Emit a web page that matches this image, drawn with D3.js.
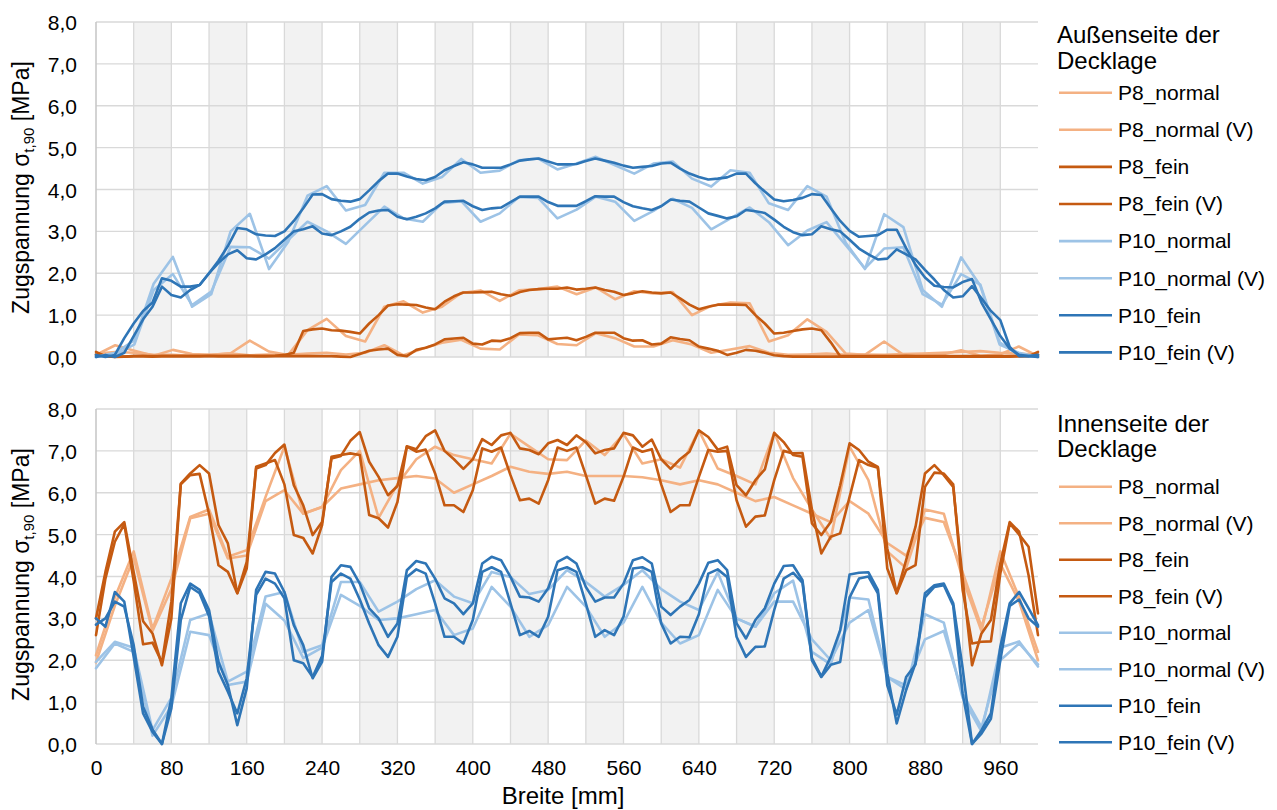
<!DOCTYPE html>
<html>
<head>
<meta charset="utf-8">
<script src="https://cdn.jsdelivr.net/npm/d3@7"></script>
<style>
  html, body { margin: 0; padding: 0; background: #fff; }
  svg { display: block; font-family: "Liberation Sans", Arial, sans-serif; }
</style>
</head>
<body>
<svg id="chart" width="1277" height="810"></svg>
<script>
// Measuring positions across the panel width [mm]
const fineX = [0,10,20,30,40,50,60,70,80,90,100,110,120,130,140,150,160,170,180,190,
  200,210,220,230,240,250,260,270,280,290,300,310,320,330,340,350,360,370,380,390,
  400,410,420,430,440,450,460,470,480,490,500,510,520,530,540,550,560,570,580,590,
  600,610,620,630,640,650,660,670,680,690,700,710,720,730,740,750,760,770,780,790,
  800,810,820,830,840,850,860,870,880,890,900,910,920,930,940,950,960,970,980,990,1000];
const outerNormalX = [0,20.4,40.8,61.2,81.6,102,122.4,142.9,163.3,183.7,204.1,224.5,244.9,265.3,285.7,
  306.1,326.5,346.9,367.3,387.8,408.2,428.6,449,469.4,489.8,510.2,530.6,551,571.4,591.8,612.2,
  632.7,653.1,673.5,693.9,714.3,734.7,755.1,775.5,795.9,816.3,836.7,857.1,877.6,898,918.4,
  938.8,959.2,979.6,1000];
const innerNormalX = [0,20,40,60,80,100,120,140,160,180,200,220,240,260,280,300,320,340,360,380,
  400,420,440,460,480,500,520,540,560,580,600,620,640,660,680,700,720,740,760,780,
  800,820,840,860,880,900,920,940,960,980,1000];

// Außenseite der Decklage – Zugspannung [MPa]
const outerP8Normal = [0.05,0.28,0.15,0.03,0.17,0.07,0.05,0.09,0.39,0.13,0.05,0.64,0.91,0.5,0.37,1.2,1.33,1.06,1.2,1.53,
  1.59,1.34,1.59,1.62,1.68,1.5,1.66,1.38,1.57,1.52,1.55,1.0,1.22,1.3,1.28,0.37,0.52,0.9,0.6,0.08,
  0.05,0.37,0.05,0.05,0.06,0.16,0.03,0.06,0.25,0.02];
const outerP8NormalV = [0.08,0.12,0.1,0.05,0.05,0.03,0.05,0.08,0.04,0.06,0.05,0.08,0.1,0.06,0.1,0.28,0.04,0.2,0.34,0.41,
  0.2,0.18,0.54,0.52,0.31,0.28,0.57,0.45,0.25,0.25,0.4,0.3,0.1,0.18,0.26,0.1,0.05,0.06,0.08,0.05,
  0.06,0.05,0.07,0.08,0.1,0.12,0.14,0.1,0.08,0.05];
const outerP8Fein = [0.12,0.02,0.0,0.01,0.02,0.02,0.01,0.02,0.02,0.02,
  0.02,0.02,0.03,0.02,0.02,0.02,0.03,0.02,0.02,0.03,
  0.05,0.1,0.62,0.66,0.68,0.64,0.63,0.6,0.56,0.8,
  1.0,1.23,1.26,1.25,1.24,1.18,1.14,1.32,1.45,1.54,
  1.54,1.55,1.56,1.5,1.46,1.55,1.6,1.62,1.63,1.63,
  1.66,1.61,1.63,1.66,1.6,1.56,1.48,1.52,1.57,1.54,
  1.52,1.54,1.4,1.25,1.14,1.2,1.25,1.25,1.25,1.24,
  1.0,0.8,0.56,0.58,0.62,0.66,0.68,0.64,0.35,0.02,
  0.02,0.02,0.02,0.02,0.02,0.02,0.03,0.02,0.02,0.02,
  0.02,0.02,0.02,0.02,0.02,0.02,0.02,0.02,0.02,0.02,0.12];
const outerP8FeinV = [0.05,0.02,0.01,0.01,0.02,0.02,0.02,0.02,0.02,0.02,
  0.02,0.02,0.02,0.02,0.02,0.02,0.02,0.02,0.02,0.02,
  0.02,0.02,0.02,0.02,0.02,0.02,0.01,0.0,0.07,0.15,
  0.18,0.2,0.05,0.02,0.17,0.22,0.3,0.42,0.44,0.46,
  0.32,0.3,0.39,0.38,0.45,0.57,0.58,0.58,0.42,0.44,
  0.46,0.4,0.48,0.58,0.58,0.58,0.45,0.39,0.4,0.3,
  0.32,0.47,0.43,0.4,0.25,0.2,0.15,0.05,0.1,0.17,
  0.15,0.1,0.04,0.02,0.01,0.01,0.01,0.01,0.01,0.01,
  0.01,0.01,0.01,0.01,0.01,0.01,0.01,0.01,0.01,0.01,
  0.01,0.01,0.01,0.01,0.01,0.01,0.01,0.01,0.02,0.03,0.05];
const outerP10Normal = [0.0,0.1,0.4,1.75,2.39,1.2,1.5,3.0,3.42,2.1,2.75,3.85,4.08,3.5,3.63,4.4,4.4,4.14,4.3,4.73,
  4.4,4.45,4.7,4.74,4.48,4.62,4.78,4.58,4.38,4.62,4.67,4.26,4.07,4.46,4.4,3.67,3.51,4.08,3.83,2.73,
  2.1,3.41,3.1,1.6,1.2,2.38,1.7,0.3,0.1,0.0];
const outerP10NormalV = [0.0,0.05,0.3,1.6,1.98,1.24,1.56,2.63,2.62,2.35,2.8,3.23,3.0,2.7,3.15,3.59,3.31,3.23,3.67,3.72,
  3.23,3.43,3.82,3.80,3.31,3.52,3.83,3.71,3.25,3.49,3.78,3.56,3.05,3.31,3.57,3.22,2.67,3.02,3.22,2.67,
  2.12,2.59,2.62,1.5,1.25,1.98,1.73,0.35,0.05,0.0];
const outerP10Fein = [0.05,0.0,0.05,0.45,0.8,1.1,1.3,1.88,1.82,1.68,
  1.68,1.72,2.0,2.3,2.65,3.08,3.05,2.93,2.9,2.89,
  3.0,3.25,3.55,3.88,3.89,3.77,3.73,3.71,3.77,3.98,
  4.2,4.38,4.38,4.31,4.25,4.22,4.3,4.46,4.56,4.65,
  4.6,4.52,4.52,4.52,4.6,4.69,4.72,4.74,4.67,4.6,
  4.6,4.61,4.68,4.74,4.69,4.64,4.57,4.52,4.54,4.56,
  4.62,4.64,4.5,4.38,4.3,4.24,4.26,4.29,4.38,4.38,
  4.15,3.95,3.76,3.72,3.75,3.8,3.89,3.87,3.55,3.25,
  3.01,2.87,2.89,2.91,3.04,3.04,2.6,2.2,1.9,1.7,
  1.67,1.66,1.79,1.86,1.3,0.9,0.5,0.2,0.05,0.02,0.05];
const outerP10FeinV = [0.0,0.05,0.0,0.1,0.5,0.9,1.2,1.68,1.48,1.42,
  1.6,1.72,2.0,2.25,2.45,2.55,2.36,2.33,2.45,2.6,
  2.8,3.0,3.05,3.12,2.95,2.91,3.0,3.11,3.3,3.45,
  3.5,3.51,3.35,3.29,3.35,3.43,3.55,3.71,3.72,3.73,
  3.6,3.51,3.55,3.57,3.7,3.83,3.83,3.83,3.7,3.61,
  3.61,3.61,3.72,3.84,3.83,3.83,3.7,3.6,3.55,3.51,
  3.6,3.76,3.73,3.71,3.57,3.43,3.37,3.31,3.36,3.51,
  3.48,3.44,3.28,3.11,2.98,2.91,2.93,3.12,3.05,3.0,
  2.8,2.59,2.45,2.33,2.35,2.57,2.45,2.33,2.08,1.85,
  1.6,1.42,1.45,1.69,1.4,1.1,0.88,0.24,0.02,0.02,0.0];

// Innenseite der Decklage – Zugspannung [MPa]
const innerP8Normal = [2.12,3.5,4.6,2.75,3.95,5.42,5.6,4.47,4.63,5.9,
  7.1,5.5,5.66,6.54,7.0,5.4,6.2,6.8,7.1,6.9,
  6.8,6.7,7.41,7.1,6.8,6.78,7.25,6.9,7.4,6.7,
  6.8,6.6,7.49,6.58,6.4,6.2,7.43,6.35,5.6,4.9,
  7.1,6.3,4.6,4.2,5.6,5.5,3.95,2.7,4.6,3.5,2.2];
const innerP8NormalV = [1.95,3.3,4.45,2.7,3.7,5.39,5.5,4.43,4.5,5.8,
  6.06,5.5,5.66,6.1,6.2,6.3,6.35,6.4,6.34,6.0,
  6.2,6.4,6.62,6.5,6.45,6.5,6.4,6.4,6.4,6.37,
  6.3,6.2,6.3,6.2,6.0,5.8,5.9,5.7,5.5,5.3,
  5.8,5.5,4.8,4.5,5.4,5.3,4.1,2.8,4.3,3.4,2.0];
const innerP8Fein = [3.0,4.11,5.07,5.3,4.1,2.93,2.64,1.88,3.0,6.22,
  6.46,6.66,6.46,5.23,4.79,3.6,4.19,6.58,6.66,6.95,
  7.15,6.18,5.7,4.99,5.3,6.82,6.88,7.24,7.45,6.74,
  6.38,5.94,6.16,7.11,7.04,7.35,7.49,7.0,6.8,6.57,
  6.8,7.28,7.14,7.37,7.43,7.06,7.02,6.92,7.18,7.26,
  7.14,7.37,7.21,6.94,7.02,7.06,7.43,7.37,7.1,7.27,
  6.8,6.57,6.8,6.98,7.49,7.33,7.03,7.1,6.18,5.94,
  6.3,6.56,7.43,7.21,6.9,6.86,5.27,4.99,5.3,6.18,
  7.18,7.02,6.74,6.62,4.19,3.6,4.39,5.19,6.46,6.66,
  6.42,6.14,3.95,1.88,2.64,2.96,4.31,5.3,5.07,4.03,2.6];
const innerP8FeinV = [2.6,3.95,4.83,5.25,3.9,2.38,2.42,1.95,3.4,6.2,
  6.42,6.45,5.5,4.27,4.11,3.6,4.35,6.62,6.7,6.78,
  6.2,4.99,4.92,4.55,5.23,6.86,6.9,6.94,6.9,5.47,
  5.39,5.17,5.78,7.1,6.98,7.03,6.46,5.7,5.7,5.54,
  6.06,7.06,6.98,7.08,6.42,5.82,5.86,5.74,6.3,7.08,
  7.0,7.08,6.42,5.74,5.86,5.81,6.38,7.08,6.98,7.04,
  6.2,5.54,5.7,5.7,6.38,7.02,6.98,7.0,5.82,5.19,
  5.43,5.46,6.3,7.0,6.94,6.95,5.6,4.55,4.95,5.03,
  5.9,6.78,6.66,6.6,4.67,3.6,4.15,4.27,6.14,6.48,
  6.46,6.2,3.68,2.4,2.44,2.45,4.07,5.27,5.0,4.71,3.12];
const innerP10Normal = [1.96,2.44,2.3,0.33,1.1,2.96,3.12,1.49,1.73,3.52,
  3.63,2.2,2.36,3.87,3.87,3.16,3.4,3.7,3.91,3.52,
  3.36,4.11,3.99,3.58,3.68,4.15,3.87,3.52,3.8,4.15,
  3.7,3.4,3.2,4.1,3.0,2.8,3.6,3.9,2.2,1.9,
  3.5,3.45,1.6,1.3,3.1,2.9,1.1,0.3,2.3,2.45,1.85];
const innerP10NormalV = [1.81,2.4,2.2,0.2,0.9,2.68,2.6,1.41,1.49,3.35,
  2.95,2.05,2.3,3.56,3.3,2.96,3.0,3.1,3.2,2.6,
  2.76,3.75,3.28,2.56,2.84,3.75,3.28,2.56,2.9,3.75,
  2.9,2.4,2.6,3.68,3.0,2.8,3.4,3.4,2.5,2.0,
  2.9,3.2,1.6,1.4,2.5,2.7,1.2,0.4,2.0,2.4,1.9];
const innerP10Fein = [3.0,2.8,3.63,3.4,2.08,0.73,0.29,0.0,1.09,3.36,
  3.83,3.68,3.2,1.96,1.41,0.45,1.33,3.68,4.11,4.07,
  3.63,2.84,2.36,1.57,1.96,3.99,4.27,4.23,3.83,3.24,
  3.0,2.56,2.88,4.15,4.37,4.31,3.95,3.48,3.36,3.1,
  3.36,4.31,4.47,4.39,3.99,3.52,3.5,3.4,3.72,4.35,
  4.47,4.31,3.75,3.4,3.5,3.5,3.83,4.39,4.46,4.31,
  3.28,3.08,3.28,3.44,3.83,4.33,4.39,4.15,2.88,2.52,
  2.96,3.24,3.83,4.25,4.27,3.91,2.05,1.61,2.08,2.72,
  4.05,4.09,4.1,3.68,1.69,0.49,1.29,1.93,3.6,3.79,
  3.83,3.36,1.81,0.0,0.33,0.73,2.32,3.36,3.63,3.24,2.84];
const innerP10FeinV = [2.85,3.0,3.4,3.28,2.36,0.89,0.35,0.0,0.85,2.96,
  3.75,3.6,3.05,1.73,1.25,0.73,1.57,3.56,3.95,3.83,
  3.48,2.0,1.93,1.6,2.1,3.87,4.07,3.95,3.45,2.88,
  2.36,2.08,2.56,3.99,4.17,4.07,3.36,2.56,2.56,2.4,
  2.96,4.11,4.22,4.11,3.36,2.6,2.7,2.56,3.04,4.15,
  4.22,4.11,3.36,2.56,2.72,2.6,3.04,4.19,4.22,4.11,
  2.88,2.4,2.56,2.55,3.1,4.07,4.17,3.99,2.56,2.08,
  2.32,2.33,3.2,3.95,4.09,3.85,2.0,1.6,1.89,1.96,
  3.5,3.95,4.0,3.6,1.4,0.7,1.6,1.9,3.5,3.75,
  3.79,3.3,1.2,0.0,0.25,0.6,2.0,3.3,3.45,3.0,2.8];

// Axis ticks, shaded strips and legend texts
const xTicks = [0,80,160,240,320,400,480,560,640,720,800,880,960];
const xGrid = [0,40,80,120,160,200,240,280,320,360,400,440,480,520,560,600,640,680,720,760,800,840,880,920,960];
const stripes = [[40,80],[120,160],[200,240],[280,320],[360,400],[440,480],[520,560],[600,640],[680,720],[760,800],[840,880],[920,960]];
const yTicks = [0,1,2,3,4,5,6,7,8];
const seriesNames = ["P8_normal","P8_normal (V)","P8_fein","P8_fein (V)","P10_normal","P10_normal (V)","P10_fein","P10_fein (V)"];
const seriesColors = ["#f4b183","#f4b183","#c55a11","#c55a11","#9dc3e6","#9dc3e6","#2e75b6","#2e75b6"];
const outerTitle = ["Außenseite der","Decklage"];
const innerTitle = ["Innenseite der","Decklage"];

const panels = [
  { top: 22, bottom: 357, title: outerTitle, legendTop: 43, legendRows: 92.7, legendStep: 37.1,
    series: [[outerNormalX, outerP8Normal],[outerNormalX, outerP8NormalV],[fineX, outerP8Fein],[fineX, outerP8FeinV],
             [outerNormalX, outerP10Normal],[outerNormalX, outerP10NormalV],[fineX, outerP10Fein],[fineX, outerP10FeinV]] },
  { top: 409, bottom: 744, title: innerTitle, legendTop: 431.5, legendRows: 486.7, legendStep: 36.5,
    series: [[innerNormalX, innerP8Normal],[innerNormalX, innerP8NormalV],[fineX, innerP8Fein],[fineX, innerP8FeinV],
             [innerNormalX, innerP10Normal],[innerNormalX, innerP10NormalV],[fineX, innerP10Fein],[fineX, innerP10FeinV]] }
];

const svg = d3.select("#chart");
const x = d3.scaleLinear().domain([0, 1000]).range([96, 1038]);
const fmt = v => d3.format(".1f")(v).replace(".", ",");

panels.forEach((p, pi) => {
  const y = d3.scaleLinear().domain([0, 8]).range([p.bottom, p.top]);
  const g = svg.append("g");

  // shaded strips
  g.selectAll("rect.strip").data(stripes).join("rect")
    .attr("x", d => x(d[0])).attr("y", y(8))
    .attr("width", d => x(d[1]) - x(d[0])).attr("height", y(0) - y(8))
    .attr("fill", "#f2f2f2");

  // horizontal grid
  g.selectAll("line.hg").data(yTicks).join("line")
    .attr("x1", x(0)).attr("x2", x(1000))
    .attr("y1", d => y(d)).attr("y2", d => y(d))
    .attr("stroke", "#d9d9d9").attr("stroke-width", 1.3);

  // vertical grid
  g.selectAll("line.vg").data(xGrid).join("line")
    .attr("x1", d => x(d)).attr("x2", d => x(d))
    .attr("y1", y(0)).attr("y2", y(8))
    .attr("stroke", d => d === 0 ? "#c8c8c8" : "#d9d9d9")
    .attr("stroke-width", d => d === 0 ? 1.6 : 1.3);

  // y axis labels
  const yAxis = d3.axisLeft(y).tickValues(yTicks).tickFormat(fmt).tickSize(0).tickPadding(0);
  const ya = g.append("g").attr("transform", `translate(${x(0) - 19},0)`).call(yAxis);
  ya.select(".domain").remove();
  ya.selectAll("text").attr("font-size", 21).attr("fill", "#000")
    .attr("font-family", "'Liberation Sans', Arial, sans-serif").attr("dy", "0.36em");

  // y axis title
  const yt = g.append("text")
    .attr("transform", `translate(29,${(p.top + p.bottom) / 2 - 2}) rotate(-90)`)
    .attr("text-anchor", "middle").attr("font-size", 23).attr("fill", "#000");
  yt.append("tspan").text("Zugspannung σ");
  yt.append("tspan").attr("font-size", 15).attr("dy", 5).text("t,90");
  yt.append("tspan").attr("dy", -5).text(" [MPa]");

  // series
  const line = d3.line().x(d => x(d[0])).y(d => y(d[1]));
  p.series.forEach((s, i) => {
    const pts = s[0].map((xv, k) => [xv, s[1][k]]);
    g.append("path").datum(pts)
      .attr("d", line).attr("fill", "none")
      .attr("stroke", seriesColors[i]).attr("stroke-width", 2.6)
      .attr("stroke-linejoin", "round").attr("stroke-linecap", "round");
  });

  // legend
  const lg = g.append("g");
  p.title.forEach((t, k) => {
    lg.append("text").attr("x", 1057).attr("y", p.legendTop + k * 25.5)
      .attr("font-size", 24).attr("fill", "#000").text(t);
  });
  seriesNames.forEach((n, i) => {
    const yy = p.legendRows + i * p.legendStep;
    lg.append("line").attr("x1", 1059).attr("x2", 1112).attr("y1", yy).attr("y2", yy)
      .attr("stroke", seriesColors[i]).attr("stroke-width", 2.6);
    lg.append("text").attr("x", 1118).attr("y", yy).attr("dy", "0.35em")
      .attr("font-size", 21).attr("fill", "#000").text(n);
  });

  // x axis labels on the lower panel
  if (pi === 1) {
    const xAxis = d3.axisBottom(x).tickValues(xTicks).tickFormat(d3.format("d")).tickSize(0).tickPadding(0);
    const xa = g.append("g").attr("transform", `translate(0,${y(0) + 16})`).call(xAxis);
    xa.select(".domain").remove();
    xa.selectAll("text").attr("font-size", 21).attr("fill", "#000")
      .attr("font-family", "'Liberation Sans', Arial, sans-serif").attr("dy", "0.71em");
    g.append("text").attr("x", 563).attr("y", 804).attr("text-anchor", "middle")
      .attr("font-size", 24).attr("fill", "#000").text("Breite [mm]");
  }
});
</script>
</body>
</html>
